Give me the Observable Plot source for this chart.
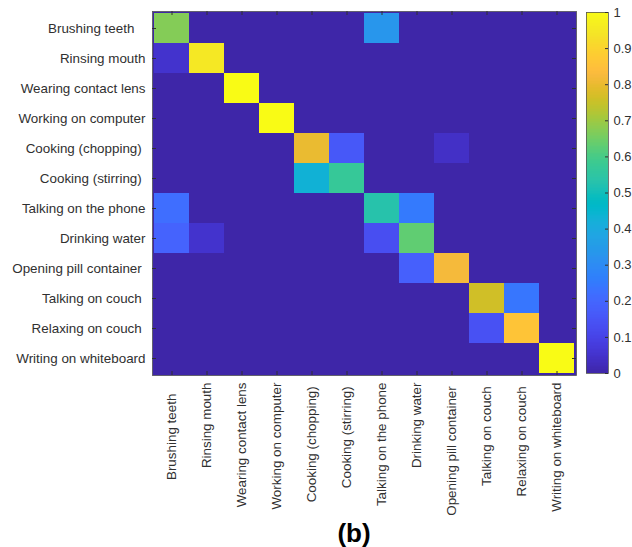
<!DOCTYPE html>
<html><head><meta charset="utf-8">
<script src="https://cdn.jsdelivr.net/npm/d3@7"></script>
<script src="https://cdn.jsdelivr.net/npm/@observablehq/plot@0.6"></script>
<style>
body{margin:0;background:#fff;}
#wrap{position:relative;width:632px;height:547px;font-family:"Liberation Sans",Arial,sans-serif;overflow:hidden;}
#main{position:absolute;left:0;top:0;}
#cbar{position:absolute;left:560px;top:0;}
#cap{position:absolute;left:0;width:708px;top:520px;text-align:center;font:bold 26px "Liberation Sans",Arial,sans-serif;color:#000;line-height:27px;}
svg text{white-space:pre;}
</style></head><body>
<div id="wrap"><div id="main"></div><div id="cbar"></div><div id="cap"></div></div>
<script>
// ---- data ----
const activities = [
  "Brushing teeth   ", "Rinsing mouth", "Wearing contact lens", "Working on computer",
  "Cooking (chopping) ", "Cooking (stirring) ", "Talking on the phone", "Drinking water",
  "Opening pill container ", "Talking on couch ", "Relaxing on couch ", "Writing on whiteboard"
];
const rowBrushing  = [0.67, 0,    0, 0, 0,    0,    0.33, 0,    0,    0,    0,    0];
const rowRinsing   = [0.05, 0.95, 0, 0, 0,    0,    0,    0,    0,    0,    0,    0];
const rowWearing   = [0,    0,    1, 0, 0,    0,    0,    0,    0,    0,    0,    0];
const rowWorking   = [0,    0,    0, 1, 0,    0,    0,    0,    0,    0,    0,    0];
const rowChopping  = [0,    0,    0, 0, 0.80, 0.16, 0,    0,    0.04, 0,    0,    0];
const rowStirring  = [0,    0,    0, 0, 0.43, 0.57, 0,    0,    0,    0,    0,    0];
const rowPhone     = [0.22, 0,    0, 0, 0,    0,    0.53, 0.25, 0,    0,    0,    0];
const rowDrinking  = [0.19, 0.05, 0, 0, 0,    0,    0.13, 0.63, 0,    0,    0,    0];
const rowPill      = [0,    0,    0, 0, 0,    0,    0,    0.18, 0.82, 0,    0,    0];
const rowTalkCouch = [0,    0,    0, 0, 0,    0,    0,    0,    0,    0.76, 0.24, 0];
const rowRelaxing  = [0,    0,    0, 0, 0,    0,    0,    0,    0,    0.14, 0.86, 0];
const rowWriting   = [0,    0,    0, 0, 0,    0,    0,    0,    0,    0,    0,    1];
const confusion = [rowBrushing, rowRinsing, rowWearing, rowWorking, rowChopping, rowStirring,
  rowPhone, rowDrinking, rowPill, rowTalkCouch, rowRelaxing, rowWriting];
const colorTicks = [0, 0.1, 0.2, 0.3, 0.4, 0.5, 0.6, 0.7, 0.8, 0.9, 1];
const caption = "(b)";

// ---- style: MATLAB parula colormap ----
const parula = [
[0.2422,0.1504,0.6603],[0.2504,0.1650,0.7076],[0.2578,0.1818,0.7511],[0.2647,0.1978,0.7952],
[0.2706,0.2147,0.8364],[0.2751,0.2342,0.8710],[0.2783,0.2559,0.8991],[0.2803,0.2782,0.9221],
[0.2813,0.3006,0.9414],[0.2810,0.3228,0.9579],[0.2795,0.3447,0.9717],[0.2760,0.3667,0.9829],
[0.2699,0.3892,0.9906],[0.2602,0.4123,0.9952],[0.2440,0.4358,0.9988],[0.2206,0.4603,0.9973],
[0.1963,0.4847,0.9892],[0.1834,0.5074,0.9798],[0.1786,0.5289,0.9682],[0.1764,0.5499,0.9520],
[0.1687,0.5703,0.9359],[0.1540,0.5902,0.9218],[0.1460,0.6091,0.9079],[0.1380,0.6276,0.8973],
[0.1248,0.6459,0.8883],[0.1113,0.6635,0.8763],[0.0952,0.6798,0.8598],[0.0689,0.6948,0.8394],
[0.0297,0.7082,0.8163],[0.0036,0.7203,0.7917],[0.0067,0.7312,0.7660],[0.0433,0.7411,0.7394],
[0.0964,0.7500,0.7120],[0.1408,0.7584,0.6842],[0.1717,0.7670,0.6554],[0.1938,0.7758,0.6251],
[0.2161,0.7843,0.5923],[0.2470,0.7918,0.5567],[0.2906,0.7973,0.5188],[0.3406,0.8008,0.4789],
[0.3909,0.8029,0.4354],[0.4456,0.8024,0.3909],[0.5044,0.7993,0.3480],[0.5616,0.7942,0.3045],
[0.6174,0.7876,0.2612],[0.6720,0.7793,0.2227],[0.7242,0.7698,0.1910],[0.7738,0.7598,0.1646],
[0.8203,0.7498,0.1535],[0.8634,0.7406,0.1596],[0.9035,0.7330,0.1774],[0.9393,0.7288,0.2100],
[0.9728,0.7298,0.2394],[0.9956,0.7434,0.2371],[0.9970,0.7659,0.2199],[0.9952,0.7893,0.2028],
[0.9892,0.8136,0.1885],[0.9786,0.8386,0.1766],[0.9676,0.8639,0.1643],[0.9610,0.8890,0.1537],
[0.9597,0.9135,0.1423],[0.9628,0.9373,0.1265],[0.9691,0.9606,0.1064],[0.9769,0.9839,0.0805]
].map(([r,g,b]) => d3.rgb(r*255, g*255, b*255).formatHex());
const parulaInterp = d3.piecewise(d3.interpolateRgb, parula);

const cells = confusion.flatMap((row, i) =>
  row.map((v, j) => ({actual: activities[i], predicted: activities[j], value: v})));

const W = 632, H = 516;
const mL = 152, mR = 56, mT = 11, mB = H - 375;
const fw = W - mL - mR, fh = H - mT - mB, tk = 4;
const txt = "#303030", font = "Liberation Sans, Arial, sans-serif";

const main = Plot.plot({
  width: W, height: H,
  marginLeft: mL, marginRight: mR, marginTop: mT, marginBottom: mB,
  style: {fontFamily: font, fontSize: "13.4px", color: txt, background: "white"},
  x: {domain: activities, padding: 0, label: null},
  y: {domain: activities, padding: 0, label: null},
  color: {type: "linear", domain: [0, 1], interpolate: parulaInterp},
  marks: [
    Plot.frame({fill: parula[0], stroke: "none"}),
    Plot.cell(cells, {x: "predicted", y: "actual", fill: "value", inset: 0, shapeRendering: "crispEdges"}),
    Plot.frame({stroke: "#555", strokeWidth: 0.8}),
    Plot.tickX(activities, {x: d => d, insetTop: fh - tk, stroke: txt}),
    Plot.tickX(activities, {x: d => d, insetBottom: fh - tk, stroke: txt}),
    Plot.tickY(activities, {y: d => d, insetRight: fw - tk, stroke: txt}),
    Plot.tickY(activities, {y: d => d, insetLeft: fw - tk, stroke: txt}),
    Plot.axisY({anchor: "left", tickSize: 0, tickPadding: 7, fill: txt}),
    Plot.axisX({anchor: "bottom", tickSize: 0, tickPadding: 7, tickRotate: -90, fill: txt})
  ]
});
document.getElementById("main").append(main);

// colorbar
const cbW = 72, cbH = 400, cbL = 26, cbR = 24, cbT = 12, cbB = cbH - 373;
const steps = d3.range(256);
const cbar = Plot.plot({
  width: cbW, height: cbH,
  marginLeft: cbL, marginRight: cbR, marginTop: cbT, marginBottom: cbB,
  style: {fontFamily: font, fontSize: "13px", color: txt, background: "transparent", overflow: "visible"},
  x: {domain: [0, 1], axis: null},
  y: {domain: [0, 1], label: null},
  color: {type: "linear", domain: [0, 1], interpolate: parulaInterp},
  marks: [
    Plot.rect(steps, {x1: 0, x2: 1, y1: i => i / 256, y2: i => (i + 1) / 256,
      fill: i => (i + 0.5) / 256, shapeRendering: "crispEdges"}),
    Plot.frame({stroke: "#555", strokeWidth: 0.8}),
    Plot.tickY(colorTicks, {y: d => d, insetLeft: (cbW - cbL - cbR) - 3, stroke: txt}),
    Plot.axisY({anchor: "right", ticks: colorTicks, tickSize: 0, tickPadding: 5,
      tickFormat: d => String(d), fill: txt})
  ]
});
document.getElementById("cbar").append(cbar);
document.getElementById("cap").textContent = caption;
</script>
</body></html>
